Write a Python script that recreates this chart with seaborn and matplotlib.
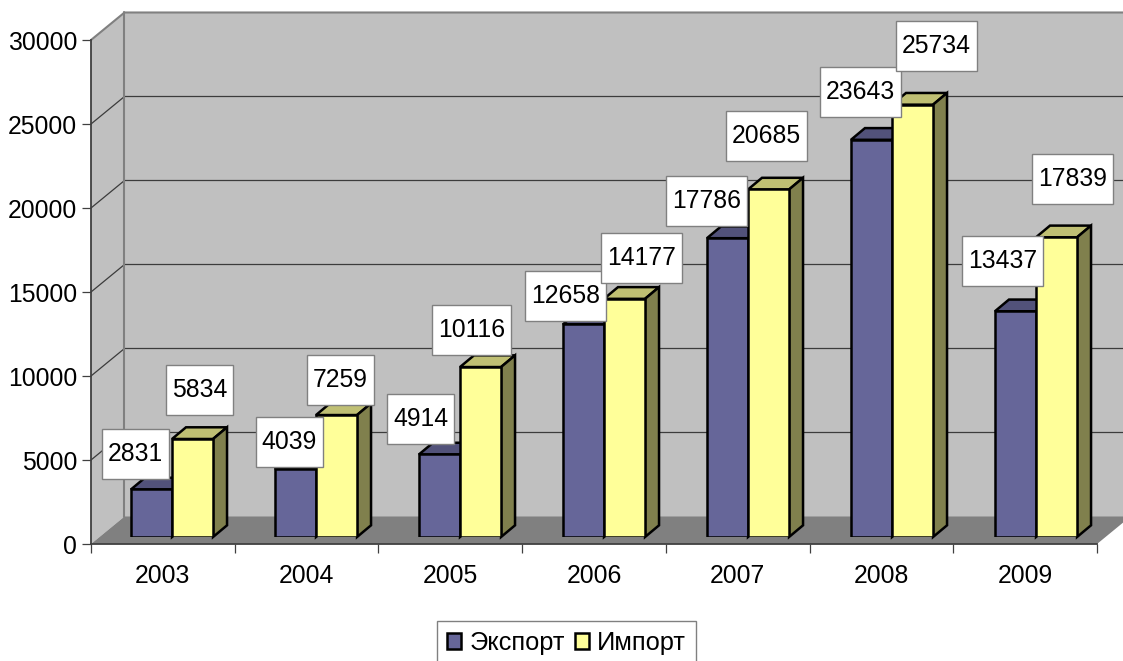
import pandas as pd
import matplotlib.pyplot as plt
import seaborn as sns
from matplotlib.patches import Polygon
from matplotlib.path import Path

years = ['2003', '2004', '2005', '2006', '2007', '2008', '2009']
export_vals = [2831, 4039, 4914, 12658, 17786, 23643, 13437]
import_vals = [5834, 7259, 10116, 14177, 20685, 25734, 17839]
y_ticks = [0, 5000, 10000, 15000, 20000, 25000, 30000]

# label box offsets from the top of each bar, pixels
export_off = [(-16, 35), (-6, 27), (-19, 35), (-18, 28), (-21, 37), (-11, 48), (-13, 50)]
import_off = [(7, 49), (4, 35), (-9, 37), (17, 41), (-2, 53), (24, 59), (16, 58)]

W, H = 1123, 661
FS = 17.8
PX_X = 1006 / 7      # pixels per category
PX_Y = 504 / 30000   # pixels per unit
WALL_DX, WALL_DY = 33.5 / PX_X, 27.5 / PX_Y
BAR_DX, BAR_DY = 14 / 144, 11.7 / PX_Y

sns.set_style('white')
plt.rcParams['font.family'] = ['Liberation Sans', 'DejaVu Sans']
plt.rcParams['text.color'] = 'black'
plt.rcParams['xtick.labelcolor'] = 'black'
plt.rcParams['ytick.labelcolor'] = 'black'

df = pd.DataFrame({
    'year': years * 2,
    'series': ['Экспорт'] * 7 + ['Импорт'] * 7,
    'value': export_vals + import_vals,
})

fig = plt.figure(figsize=(W / 100, H / 100), dpi=100)
ax = fig.add_axes([91 / W, 1 - 544 / H, 1006 / W, 504 / H], facecolor='none')
ax_bars = fig.add_axes([100 / W, 1 - 537 / H, 1008 / W, 504 / H], facecolor='none')

# 1. Walls and floor
ax.set_xlim(-0.5, 6.5)
ax.set_ylim(0, 30000)
x0, x1, y1 = -0.5, 6.5, 30000
ax.add_patch(Polygon([(x0, 0), (x0 + WALL_DX, WALL_DY), (x0 + WALL_DX, y1 + WALL_DY), (x0, y1)],
                     fc='#C0C0C0', ec='none', clip_on=False, zorder=0))
ax.add_patch(Polygon([(x0 + WALL_DX, WALL_DY), (x1 + WALL_DX, WALL_DY), (x1 + WALL_DX, y1 + WALL_DY), (x0 + WALL_DX, y1 + WALL_DY)],
                     fc='#C0C0C0', ec='none', clip_on=False, zorder=0))
ax.add_patch(Polygon([(x0, 0), (x0 + WALL_DX, WALL_DY), (x1 + WALL_DX, WALL_DY), (x1, 0)],
                     fc='#808080', ec='none', clip_on=False, zorder=1))
for t in y_ticks[1:-1]:
    ax.plot([x0, x0 + WALL_DX, x1 + WALL_DX], [t, t + WALL_DY, t + WALL_DY],
            color='#3C3C3C', lw=0.9, clip_on=False, zorder=2)
ax.plot([x0, x0 + WALL_DX, x1 + WALL_DX], [y1, y1 + WALL_DY, y1 + WALL_DY],
        color='#808080', lw=1.5, clip_on=False, zorder=2)
ax.plot([x0 + WALL_DX, x0 + WALL_DX], [WALL_DY, y1 + WALL_DY], color='#808080', lw=1.5, clip_on=False, zorder=2)

# 2. Axes
for s in ['top', 'right']:
    ax.spines[s].set_visible(False)
for s in ['left', 'bottom']:
    ax.spines[s].set_color('#404040')
    ax.spines[s].set_linewidth(1.3)
ax.set_yticks(y_ticks)
ax.set_xticks([i - 0.5 for i in range(8)])
ax.set_xticklabels([])
ax.set_xticks(range(7), years, minor=True)
ax.tick_params(axis='y', length=6.5, width=0.9, color='#404040', labelsize=FS, pad=3.5, left=True)
ax.tick_params(axis='x', which='major', length=6.5, width=0.9, color='#404040', bottom=True)
ax.tick_params(axis='x', which='minor', length=0, labelsize=FS, pad=14.5)

# 3. Bars
sns.barplot(data=df, x='year', y='value', hue='series', ax=ax_bars,
            palette={'Экспорт': '#666699', 'Импорт': '#FFFF99'},
            width=0.57, gap=0, saturation=1, edgecolor='black', linewidth=1.8)
handles, labels = ax_bars.get_legend_handles_labels()
ax_bars.get_legend().remove()
ax_bars.set_xlim(-0.5, 6.5)
ax_bars.set_ylim(0, 30000)
ax_bars.set_axis_off()


def label_box(x0, y0, width, height, mutation_size):
    # fixed height box like the spreadsheet labels
    cy = y0 + height / 2
    left, right = x0 - 6, x0 + width + 6
    bottom, top = cy - 25, cy + 25
    return Path([(left, bottom), (right, bottom), (right, top), (left, top), (left, bottom)], closed=True)


shades = [('#52527A', '#33334D'), ('#BFBF73', '#80804D')]
offsets = [export_off, import_off]
for k, container in enumerate(ax_bars.containers):
    for i, bar in enumerate(container):
        x, w, h = bar.get_x(), bar.get_width(), bar.get_height()
        z = 10 * i + k + 3
        bar.set_zorder(z + 0.5)
        top_c, side_c = shades[k]
        ax_bars.add_patch(Polygon([(x, h), (x + BAR_DX, h + BAR_DY), (x + w + BAR_DX, h + BAR_DY), (x + w, h)],
                                  fc=top_c, ec='black', lw=1.8, zorder=z, clip_on=False))
        ax_bars.add_patch(Polygon([(x + w, 0), (x + w + BAR_DX, BAR_DY), (x + w + BAR_DX, h + BAR_DY), (x + w, h)],
                                  fc=side_c, ec='black', lw=1.8, zorder=z, clip_on=False))
        dx, dy = offsets[k][i]
        ax_bars.annotate(str(int(h)), xy=(x + w / 2, h), xytext=(dx, dy), textcoords='offset pixels',
                         ha='center', va='center', fontsize=FS, color='black', zorder=1000 + i + k,
                         annotation_clip=False,
                         bbox=dict(boxstyle=label_box, fc='white', ec='#808080', lw=1.0))

# 4. Legend, bottom edge runs off the canvas
leg = fig.legend(handles, labels, loc='upper left', bbox_to_anchor=(437 / W, 1 - 621 / H),
                 bbox_transform=fig.transFigure, ncol=2, fontsize=18.3, fancybox=False, framealpha=1,
                 edgecolor='#808080', borderpad=0.4, borderaxespad=0, handlelength=0.56, handleheight=0.56,
                 handletextpad=0.31, columnspacing=0.39)
leg.get_frame().set_linewidth(1.0)

fig.savefig('out.png', dpi=100, facecolor='white')
